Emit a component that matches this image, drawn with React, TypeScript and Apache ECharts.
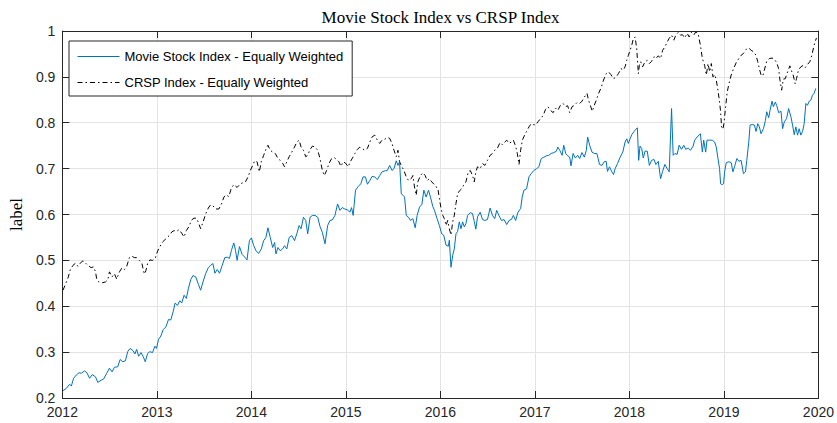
import React, { useEffect, useRef } from "react";
import * as echarts from "echarts";

const chartTitle = "Movie Stock Index vs CRSP Index";
const yAxisName = "label";
const movieName = "Movie Stock Index - Equally Weighted";
const crspName = "CRSP Index - Equally Weighted";
const xMin = 2012;
const xMax = 2020;
const yMin = 0.2;
const yMax = 1;

const movieIndex: [number, number][] = [
  [2012.007,0.216],[2012.042,0.221],[2012.077,0.230],[2012.095,0.226],[2012.119,0.243],[2012.147,0.250],[2012.175,0.255],[2012.200,0.254],[2012.235,0.259],[2012.260,0.255],[2012.288,0.243],[2012.316,0.251],[2012.351,0.246],[2012.375,0.234],[2012.411,0.239],[2012.435,0.241],[2012.470,0.254],[2012.498,0.265],[2012.526,0.257],[2012.551,0.267],[2012.586,0.268],[2012.611,0.284],[2012.639,0.279],[2012.667,0.281],[2012.691,0.301],[2012.716,0.308],[2012.744,0.304],[2012.768,0.296],[2012.786,0.306],[2012.807,0.291],[2012.832,0.299],[2012.856,0.290],[2012.877,0.279],[2012.902,0.297],[2012.926,0.301],[2012.954,0.299],[2012.979,0.313],[2012.996,0.308],
  [2013.018,0.328],[2013.042,0.335],[2013.067,0.349],[2013.095,0.355],[2013.123,0.371],[2013.147,0.370],[2013.172,0.388],[2013.193,0.407],[2013.218,0.402],[2013.242,0.412],[2013.263,0.407],[2013.288,0.424],[2013.312,0.417],[2013.333,0.438],[2013.358,0.458],[2013.382,0.467],[2013.411,0.464],[2013.439,0.448],[2013.463,0.435],[2013.488,0.453],[2013.516,0.471],[2013.544,0.484],[2013.568,0.489],[2013.593,0.493],[2013.614,0.472],[2013.639,0.480],[2013.663,0.472],[2013.691,0.489],[2013.719,0.506],[2013.744,0.507],[2013.768,0.504],[2013.789,0.522],[2013.814,0.538],[2013.832,0.522],[2013.849,0.500],[2013.874,0.530],[2013.902,0.513],[2013.930,0.507],[2013.954,0.501],
  [2013.979,0.543],[2014.000,0.549],[2014.025,0.532],[2014.049,0.521],[2014.077,0.515],[2014.105,0.525],[2014.130,0.543],[2014.154,0.550],[2014.175,0.571],[2014.200,0.550],[2014.225,0.528],[2014.246,0.539],[2014.260,0.514],[2014.281,0.528],[2014.305,0.521],[2014.330,0.525],[2014.351,0.532],[2014.375,0.525],[2014.400,0.550],[2014.428,0.554],[2014.456,0.543],[2014.481,0.558],[2014.505,0.576],[2014.526,0.569],[2014.551,0.594],[2014.575,0.587],[2014.596,0.558],[2014.621,0.594],[2014.646,0.598],[2014.674,0.598],[2014.702,0.594],[2014.726,0.574],[2014.751,0.561],[2014.779,0.536],[2014.807,0.576],[2014.832,0.587],[2014.856,0.588],[2014.884,0.598],[2014.912,0.623],[2014.937,0.609],[2014.961,0.615],[2014.989,0.612],
  [2015.018,0.610],[2015.042,0.605],[2015.060,0.615],[2015.077,0.598],[2015.102,0.653],[2015.130,0.661],[2015.158,0.667],[2015.182,0.682],[2015.207,0.682],[2015.228,0.666],[2015.253,0.674],[2015.277,0.683],[2015.305,0.682],[2015.333,0.676],[2015.358,0.685],[2015.382,0.693],[2015.411,0.695],[2015.439,0.696],[2015.463,0.707],[2015.488,0.696],[2015.509,0.700],[2015.533,0.717],[2015.551,0.707],[2015.568,0.715],[2015.586,0.645],[2015.604,0.642],[2015.621,0.638],[2015.639,0.598],[2015.663,0.594],[2015.684,0.587],[2015.709,0.591],[2015.733,0.571],[2015.754,0.598],[2015.779,0.616],[2015.804,0.622],[2015.825,0.653],[2015.849,0.638],[2015.874,0.653],[2015.895,0.638],[2015.919,0.618],
  [2015.937,0.609],[2015.965,0.591],[2015.989,0.576],[2016.014,0.558],[2016.035,0.555],[2016.060,0.533],[2016.084,0.531],[2016.095,0.544],[2016.112,0.485],[2016.130,0.511],[2016.147,0.525],[2016.165,0.558],[2016.182,0.563],[2016.200,0.584],[2016.218,0.569],[2016.235,0.584],[2016.253,0.573],[2016.270,0.580],[2016.288,0.598],[2016.316,0.604],[2016.340,0.602],[2016.358,0.585],[2016.375,0.568],[2016.393,0.595],[2016.421,0.605],[2016.446,0.589],[2016.470,0.587],[2016.498,0.589],[2016.526,0.614],[2016.551,0.598],[2016.575,0.591],[2016.596,0.609],[2016.621,0.597],[2016.646,0.587],[2016.674,0.589],[2016.702,0.578],[2016.726,0.587],[2016.751,0.589],[2016.772,0.598],[2016.796,0.587],[2016.821,0.605],[2016.849,0.613],[2016.867,0.640],[2016.884,0.653],[2016.912,0.656],[2016.937,0.682],[2016.961,0.689],[2016.989,0.696],
  [2017.018,0.700],[2017.042,0.704],[2017.067,0.722],[2017.095,0.725],[2017.123,0.728],[2017.147,0.729],[2017.172,0.733],[2017.200,0.735],[2017.228,0.738],[2017.242,0.747],[2017.263,0.740],[2017.288,0.729],[2017.305,0.751],[2017.326,0.733],[2017.347,0.728],[2017.368,0.725],[2017.382,0.706],[2017.404,0.733],[2017.428,0.723],[2017.453,0.729],[2017.474,0.722],[2017.498,0.735],[2017.523,0.725],[2017.544,0.740],[2017.558,0.769],[2017.579,0.751],[2017.604,0.736],[2017.628,0.733],[2017.656,0.733],[2017.684,0.709],[2017.709,0.707],[2017.733,0.715],[2017.754,0.716],[2017.768,0.694],[2017.789,0.704],[2017.814,0.693],[2017.832,0.687],[2017.849,0.700],[2017.874,0.711],[2017.902,0.725],[2017.930,0.736],
  [2017.954,0.758],[2017.972,0.765],[2017.989,0.755],[2018.007,0.765],[2018.025,0.774],[2018.049,0.781],[2018.070,0.786],[2018.084,0.789],[2018.098,0.718],[2018.112,0.749],[2018.130,0.744],[2018.147,0.723],[2018.165,0.738],[2018.189,0.738],[2018.211,0.707],[2018.235,0.718],[2018.260,0.720],[2018.281,0.709],[2018.305,0.716],[2018.330,0.678],[2018.351,0.694],[2018.375,0.709],[2018.400,0.700],[2018.421,0.693],[2018.446,0.831],[2018.463,0.729],[2018.481,0.733],[2018.505,0.731],[2018.526,0.751],[2018.551,0.742],[2018.575,0.751],[2018.596,0.742],[2018.621,0.745],[2018.646,0.740],[2018.674,0.749],[2018.691,0.762],[2018.716,0.769],[2018.737,0.773],[2018.751,0.776],[2018.772,0.736],[2018.786,0.762],[2018.807,0.736],[2018.821,0.762],[2018.849,0.762],[2018.877,0.762],[2018.902,0.758],[2018.919,0.747],[2018.937,0.722],[2018.954,0.700],[2018.965,0.667],[2018.982,0.665],[2018.996,0.667],
  [2019.007,0.693],[2019.025,0.713],[2019.053,0.715],[2019.077,0.713],[2019.095,0.693],[2019.112,0.704],[2019.137,0.722],[2019.158,0.716],[2019.182,0.718],[2019.207,0.689],[2019.228,0.693],[2019.242,0.718],[2019.263,0.758],[2019.277,0.795],[2019.298,0.796],[2019.323,0.795],[2019.340,0.781],[2019.358,0.798],[2019.375,0.791],[2019.393,0.776],[2019.418,0.787],[2019.439,0.805],[2019.453,0.824],[2019.474,0.811],[2019.488,0.827],[2019.509,0.847],[2019.523,0.835],[2019.544,0.845],[2019.558,0.838],[2019.579,0.822],[2019.604,0.825],[2019.621,0.787],[2019.639,0.802],[2019.663,0.809],[2019.684,0.831],[2019.709,0.813],[2019.726,0.795],[2019.744,0.774],[2019.761,0.791],[2019.779,0.773],[2019.796,0.787],[2019.814,0.773],[2019.832,0.781],[2019.849,0.798],[2019.867,0.842],[2019.884,0.838],[2019.902,0.847],[2019.919,0.849],[2019.937,0.860],[2019.954,0.864],[2019.972,0.875],
];

const crspIndex: [number, number][] = [
  [2012.007,0.435],[2012.035,0.449],[2012.060,0.462],[2012.084,0.480],[2012.112,0.489],[2012.140,0.494],[2012.165,0.487],[2012.189,0.494],[2012.218,0.499],[2012.246,0.494],[2012.270,0.489],[2012.305,0.484],[2012.330,0.486],[2012.351,0.475],[2012.365,0.457],[2012.386,0.453],[2012.421,0.451],[2012.456,0.453],[2012.481,0.458],[2012.498,0.475],[2012.526,0.464],[2012.551,0.471],[2012.575,0.459],[2012.604,0.475],[2012.632,0.484],[2012.656,0.480],[2012.681,0.487],[2012.709,0.506],[2012.737,0.509],[2012.761,0.506],[2012.786,0.506],[2012.814,0.500],[2012.842,0.493],[2012.867,0.470],[2012.884,0.478],[2012.902,0.493],[2012.926,0.501],[2012.954,0.500],[2012.982,0.504],
  [2013.007,0.520],[2013.032,0.530],[2013.060,0.540],[2013.095,0.547],[2013.130,0.554],[2013.158,0.562],[2013.182,0.565],[2013.207,0.563],[2013.235,0.567],[2013.263,0.559],[2013.288,0.551],[2013.312,0.565],[2013.340,0.574],[2013.368,0.588],[2013.393,0.592],[2013.418,0.592],[2013.439,0.583],[2013.463,0.569],[2013.488,0.583],[2013.516,0.601],[2013.544,0.614],[2013.568,0.621],[2013.593,0.619],[2013.621,0.612],[2013.656,0.612],[2013.684,0.623],[2013.709,0.638],[2013.733,0.643],[2013.761,0.639],[2013.789,0.658],[2013.814,0.665],[2013.849,0.659],[2013.884,0.667],[2013.919,0.670],
  [2013.937,0.671],[2013.965,0.682],[2013.989,0.696],[2014.014,0.707],[2014.035,0.717],[2014.060,0.715],[2014.084,0.693],[2014.105,0.715],[2014.130,0.729],[2014.154,0.742],[2014.175,0.751],[2014.200,0.740],[2014.225,0.736],[2014.253,0.733],[2014.281,0.722],[2014.305,0.718],[2014.330,0.712],[2014.351,0.704],[2014.375,0.715],[2014.400,0.726],[2014.428,0.736],[2014.456,0.747],[2014.481,0.758],[2014.505,0.762],[2014.526,0.747],[2014.551,0.740],[2014.575,0.726],[2014.596,0.729],[2014.621,0.742],[2014.646,0.749],[2014.674,0.747],[2014.702,0.740],[2014.726,0.722],[2014.751,0.696],[2014.772,0.685],[2014.796,0.696],[2014.821,0.711],[2014.849,0.722],[2014.877,0.724],[2014.902,0.720],[2014.926,0.715],[2014.947,0.705],[2014.972,0.715],[2014.996,0.712],
  [2015.025,0.704],[2015.046,0.715],[2015.067,0.722],[2015.095,0.733],[2015.123,0.742],[2015.147,0.747],[2015.172,0.744],[2015.200,0.740],[2015.228,0.744],[2015.253,0.758],[2015.277,0.769],[2015.305,0.773],[2015.333,0.762],[2015.358,0.755],[2015.382,0.762],[2015.411,0.764],[2015.439,0.768],[2015.463,0.766],[2015.488,0.755],[2015.509,0.740],[2015.533,0.726],[2015.551,0.740],[2015.568,0.715],[2015.593,0.704],[2015.614,0.696],[2015.639,0.682],[2015.663,0.674],[2015.691,0.678],[2015.709,0.685],[2015.726,0.660],[2015.744,0.642],[2015.761,0.671],[2015.789,0.685],[2015.814,0.691],[2015.839,0.685],[2015.860,0.674],[2015.884,0.678],[2015.909,0.671],
  [2015.937,0.665],[2015.954,0.660],[2015.972,0.658],[2015.989,0.635],[2016.007,0.613],[2016.025,0.598],[2016.042,0.591],[2016.060,0.576],[2016.077,0.587],[2016.095,0.569],[2016.112,0.555],[2016.130,0.584],[2016.147,0.598],[2016.165,0.624],[2016.182,0.645],[2016.200,0.651],[2016.225,0.656],[2016.246,0.664],[2016.270,0.671],[2016.295,0.693],[2016.316,0.696],[2016.340,0.685],[2016.358,0.671],[2016.375,0.693],[2016.393,0.704],[2016.421,0.700],[2016.446,0.711],[2016.470,0.707],[2016.498,0.718],[2016.526,0.729],[2016.551,0.733],[2016.575,0.740],[2016.604,0.745],[2016.632,0.757],[2016.656,0.752],[2016.681,0.758],[2016.702,0.762],[2016.726,0.755],[2016.751,0.758],[2016.772,0.762],[2016.796,0.749],[2016.814,0.733],[2016.832,0.709],[2016.849,0.740],[2016.867,0.762],[2016.891,0.773],[2016.912,0.781],[2016.937,0.791],[2016.961,0.798],[2016.982,0.796],
  [2017.007,0.795],[2017.032,0.802],[2017.060,0.809],[2017.088,0.816],[2017.112,0.829],[2017.137,0.835],[2017.165,0.827],[2017.193,0.822],[2017.218,0.832],[2017.242,0.827],[2017.270,0.838],[2017.298,0.842],[2017.323,0.835],[2017.347,0.837],[2017.368,0.822],[2017.393,0.835],[2017.418,0.838],[2017.446,0.844],[2017.474,0.842],[2017.498,0.847],[2017.523,0.856],[2017.551,0.864],[2017.568,0.849],[2017.586,0.838],[2017.607,0.825],[2017.628,0.838],[2017.649,0.849],[2017.674,0.864],[2017.698,0.875],[2017.726,0.893],[2017.754,0.907],[2017.779,0.911],[2017.804,0.905],[2017.832,0.896],[2017.860,0.900],[2017.884,0.907],[2017.909,0.918],
  [2017.937,0.915],[2017.954,0.922],[2017.972,0.936],[2017.989,0.947],[2018.007,0.958],[2018.025,0.969],[2018.042,0.984],[2018.060,0.987],[2018.077,0.962],[2018.095,0.907],[2018.105,0.925],[2018.119,0.933],[2018.140,0.922],[2018.165,0.933],[2018.189,0.936],[2018.211,0.929],[2018.235,0.934],[2018.260,0.944],[2018.281,0.940],[2018.305,0.946],[2018.330,0.940],[2018.351,0.958],[2018.375,0.965],[2018.400,0.976],[2018.421,0.984],[2018.446,0.991],[2018.470,0.980],[2018.491,0.991],[2018.516,0.997],[2018.540,0.991],[2018.561,0.992],[2018.586,0.985],[2018.611,0.995],[2018.632,0.987],[2018.656,0.997],[2018.681,0.991],[2018.702,0.998],[2018.726,0.995],[2018.751,0.969],[2018.772,0.940],[2018.796,0.925],[2018.814,0.904],[2018.832,0.929],[2018.849,0.911],[2018.867,0.929],[2018.884,0.900],[2018.902,0.905],[2018.919,0.893],[2018.937,0.871],[2018.954,0.845],[2018.965,0.824],[2018.975,0.791],[2018.989,0.786],
  [2019.000,0.798],[2019.018,0.835],[2019.035,0.867],[2019.053,0.885],[2019.077,0.904],[2019.102,0.918],[2019.130,0.931],[2019.158,0.940],[2019.182,0.947],[2019.207,0.951],[2019.235,0.960],[2019.263,0.963],[2019.288,0.958],[2019.312,0.955],[2019.340,0.947],[2019.358,0.933],[2019.375,0.918],[2019.393,0.904],[2019.411,0.902],[2019.428,0.915],[2019.453,0.934],[2019.481,0.940],[2019.509,0.941],[2019.533,0.939],[2019.558,0.931],[2019.579,0.918],[2019.593,0.893],[2019.611,0.871],[2019.628,0.895],[2019.649,0.896],[2019.674,0.911],[2019.698,0.924],[2019.719,0.911],[2019.733,0.904],[2019.754,0.885],[2019.768,0.896],[2019.789,0.915],[2019.814,0.922],[2019.839,0.925],[2019.860,0.920],[2019.884,0.927],[2019.909,0.933],[2019.930,0.947],[2019.954,0.969],[2019.979,0.985],
];

const axisColor = "#262626";
const gridColor = "#e3e3e3";
const sansFont = "Liberation Sans";
const serifFont = "Liberation Serif";

export default function App() {
  const ref = useRef<HTMLDivElement>(null);

  useEffect(() => {
    document.body.style.margin = "0";
    if (!ref.current) return;
    const chart = echarts.init(ref.current, null, { renderer: "svg" });

    const tickCommon = {
      show: true,
      inside: true,
      length: 7,
      lineStyle: { color: axisColor, width: 1 },
    };
    const lineCommon = {
      show: true,
      onZero: false,
      lineStyle: { color: axisColor, width: 1 },
    };

    chart.setOption({
      animation: false,
      backgroundColor: "#ffffff",
      grid: { left: 61, right: 16, top: 31, bottom: 25, containLabel: false },
      graphic: [
        {
          type: "text",
          x: 440.5,
          y: 17.5,
          style: {
            text: chartTitle,
            font: `17px "${serifFont}"`,
            fill: "#000000",
            textAlign: "center",
            textVerticalAlign: "middle",
          },
        },
      ],
      legend: {
        show: true,
        orient: "vertical",
        left: 69,
        top: 41,
        padding: [9, 9, 7, 8],
        itemWidth: 42,
        itemHeight: 14,
        itemGap: 13,
        backgroundColor: "#ffffff",
        borderColor: axisColor,
        borderWidth: 1,
        borderRadius: 0,
        itemStyle: { opacity: 0 },
        lineStyle: { width: 1 },
        textStyle: { fontFamily: sansFont, fontSize: 13, color: "#000000" },
        data: [movieName, crspName],
      },
      xAxis: [
        {
          type: "value",
          position: "bottom",
          min: xMin,
          max: xMax,
          interval: 1,
          axisLine: lineCommon,
          axisTick: tickCommon,
          axisLabel: {
            color: axisColor,
            fontFamily: sansFont,
            fontSize: 14,
            margin: 7,
            formatter: (v: number) => String(Math.round(v)),
          },
          splitLine: { show: true, lineStyle: { color: gridColor, width: 1 } },
        },
        {
          type: "value",
          position: "top",
          min: xMin,
          max: xMax,
          interval: 1,
          axisLine: lineCommon,
          axisTick: tickCommon,
          axisLabel: { show: false },
          splitLine: { show: false },
        },
      ],
      yAxis: [
        {
          type: "value",
          position: "left",
          min: yMin,
          max: yMax,
          interval: 0.1,
          name: yAxisName,
          nameLocation: "middle",
          nameRotate: 90,
          nameGap: 35,
          nameTextStyle: { fontFamily: serifFont, fontSize: 17, color: "#000000" },
          axisLine: lineCommon,
          axisTick: tickCommon,
          axisLabel: {
            color: axisColor,
            fontFamily: sansFont,
            fontSize: 14,
            margin: 7,
            formatter: (v: number) => String(Math.round(v * 10) / 10),
          },
          splitLine: { show: true, lineStyle: { color: gridColor, width: 1 } },
        },
        {
          type: "value",
          position: "right",
          min: yMin,
          max: yMax,
          interval: 0.1,
          axisLine: lineCommon,
          axisTick: tickCommon,
          axisLabel: { show: false },
          splitLine: { show: false },
        },
      ],
      series: [
        {
          name: movieName,
          type: "line",
          xAxisIndex: 0,
          yAxisIndex: 0,
          data: movieIndex,
          showSymbol: false,
          symbol: "none",
          lineStyle: { color: "#0072BD", width: 1 },
          itemStyle: { color: "#0072BD" },
          z: 3,
        },
        {
          name: crspName,
          type: "line",
          xAxisIndex: 0,
          yAxisIndex: 0,
          data: crspIndex,
          showSymbol: false,
          symbol: "none",
          lineStyle: { color: "#000000", width: 1, type: [5, 3, 1.5, 3] },
          itemStyle: { color: "#000000" },
          z: 2,
        },
      ],
    });

    return () => {
      chart.dispose();
    };
  }, []);

  return <div ref={ref} style={{ width: 837, height: 423 }} />;
}
